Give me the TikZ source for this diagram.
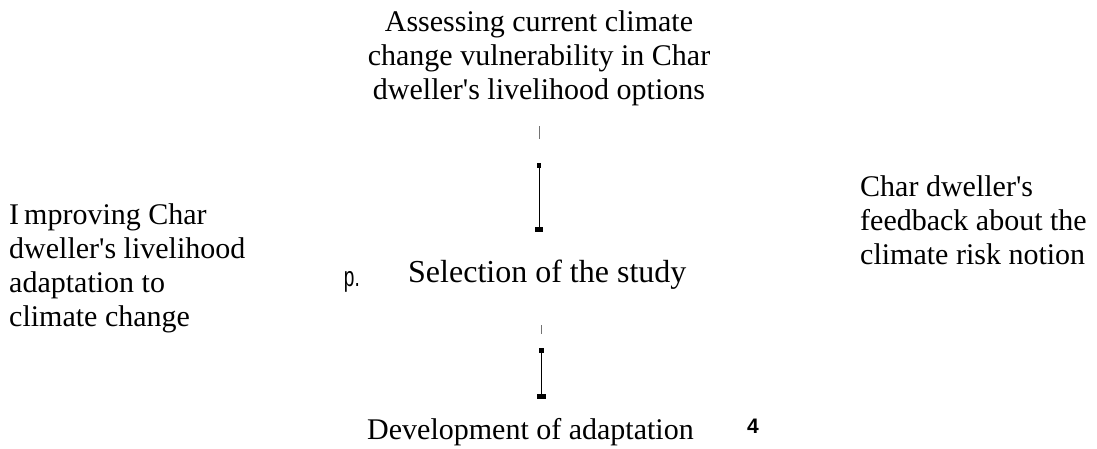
\documentclass[tikz,border=0pt]{standalone}
\usepackage{fontspec}
\setmainfont{Liberation Serif}
\newfontfamily\labelsans{Liberation Sans}
\usetikzlibrary{positioning}
\newcommand{\apos}{\textquotesingle}
\tikzset{
	txt/.style={align=center, font=\fontsize{30}{34}\selectfont, inner sep=0pt},
	txtl/.style={align=left, font=\fontsize{30}{34}\selectfont, inner sep=0pt},
	blob/.style={fill=black, inner sep=0pt, minimum width=#1, minimum height=5pt},
	tickbar/.style={fill=black!55, inner sep=0pt, minimum width=1pt, minimum height=13pt}
}

\begin{document}
\begin{tikzpicture}[x=1pt, y=-1pt]
	\useasboundingbox (0,0) rectangle (1097,448);
	\node[txt] (assess) at (539,58) {Assessing current climate\\ change vulnerability in Char\\ dweller\apos s livelihood options};
	\node[txtl, anchor=west] (improve) at (9,268) {I\,mproving Char\\ dweller\apos s livelihood\\ adaptation to\\ climate change};
	\node[txtl, anchor=west] (feedback) at (860,220) {Char dweller\apos s\\ feedback about the\\ climate risk notion};
	\node[txtl, anchor=west, font=\fontsize{32}{36}\selectfont] (select) at (408,275) {Selection of the study};
	\node[font=\labelsans\fontsize{28}{30}\selectfont, inner sep=0pt, left=48pt of select, yshift=-7pt] (pmark) {\scalebox{0.68}[1]{p.}};
	\node[txtl, anchor=west] (develop) at (367,432) {Development of adaptation};
	\node[font=\labelsans\bfseries\fontsize{21}{24}\selectfont, inner sep=0pt] (four) at (753,426) {4};
	% upper link
	\node[tickbar] (u0) at (539,132) {};
	\node[blob=4pt] (u1) at (539,165) {};
	\node[blob=8pt] (u2) at (539,229) {};
	\draw[line width=1pt] (u1.center) -- (u2.center);
	% lower link
	\node[tickbar, minimum height=9pt] (d0) at (541,329) {};
	\node[blob=5pt] (d1) at (541,350) {};
	\node[blob=9pt] (d2) at (541,396) {};
	\draw[line width=1pt] (d1.center) -- (d2.center);
\end{tikzpicture}
\end{document}
